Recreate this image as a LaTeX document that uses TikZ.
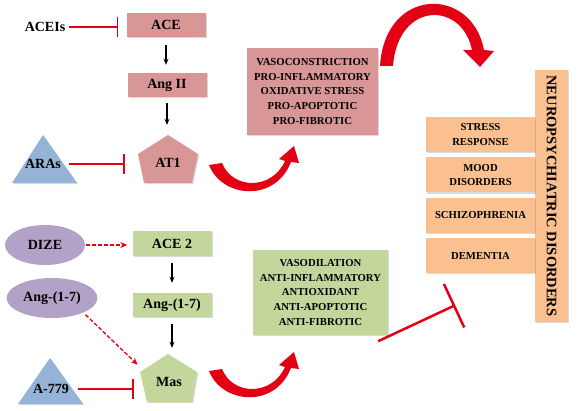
\documentclass[tikz,border=0pt]{standalone}
\usepackage{fontspec}
\setmainfont{Liberation Serif}
\usetikzlibrary{arrows.meta,positioning,shapes.geometric,shadows,calc}
\definecolor{raspink}{RGB}{217,150,150}
\definecolor{rasgreen}{RGB}{195,214,155}
\definecolor{rasorange}{RGB}{250,192,144}
\definecolor{rasblue}{RGB}{149,179,215}
\definecolor{raspurple}{RGB}{179,162,199}
\definecolor{rasred}{RGB}{228,0,20}

\begin{document}
\begin{tikzpicture}[x=1pt,y=-1pt,
  lbl/.style={font=\fontsize{14}{16}\selectfont\bfseries},
  small/.style={font=\fontsize{10.7}{14.6}\selectfont\bfseries, align=center},
  shade box/.style={drop shadow={shadow xshift=1.2pt,shadow yshift=-1.2pt,opacity=.3}},
  pinkbox/.style={lbl, fill=raspink, shade box, minimum width=79pt, minimum height=24pt},
  greenbox/.style={lbl, fill=rasgreen, shade box, minimum width=79pt, minimum height=24pt},
  disbox/.style={small, fill=rasorange, shade box, minimum width=109pt, minimum height=35pt, inner sep=1pt},
  blocker/.style={rasred, line width=1.5pt, -{Bar[width=20pt]}},
  dasharrow/.style={rasred, line width=1.3pt, dash pattern=on 4pt off 2pt, -{Stealth[length=7pt,width=6pt]}},
  down/.style={line width=1.2pt, -{Stealth[length=6pt,width=5pt]}}]
\useasboundingbox (0,0) rectangle (577,411);

% ACE / Ang II / AT1 axis
\node[lbl] (acei) at (45,27) {ACEIs};
\node[pinkbox] (ace) at (166,25) {ACE};
\node[pinkbox] (angii) at (167,85) {Ang II};
\fill[raspink, shade box] (168,135) -- (198,154) -- (192,183) -- (144,183) -- (138,154) -- cycle;
\node[lbl, minimum width=60pt, minimum height=30pt] (at1) at (168,163) {AT1};
\fill[rasblue, shade box] (43,135) -- (77,183) -- (12,183) -- cycle;
\node[lbl] (aras) at (43,164) {ARAs};

\draw[blocker, shorten >=8pt] (acei.east) -- (acei.east -| ace.west);
\draw[down, shorten <=8pt, shorten >=8pt] (ace.south) -- (ace.south |- angii.north);
\draw[down, shorten <=6pt, shorten >=23pt] (angii.south) -- (angii.south |- at1.north);
\draw[blocker, shorten <=5pt, shorten >=13pt] (aras.east) -- (aras.east -| at1.west);

% ACE2 / Ang-(1-7) / Mas axis
\node[lbl, ellipse, fill=raspurple, minimum width=80pt, minimum height=40pt] (dize) at (45,245) {DIZE};
\node[lbl, ellipse, fill=raspurple, minimum width=74pt, minimum height=40pt] (angs) at (52,298) {Ang-(1-7)};
\node[greenbox] (ace2) at (172,243.5) {ACE 2};
\node[greenbox] (ang17) at (172,305) {Ang-(1-7)};
\fill[rasgreen, shade box] (168,354) -- (197,372) -- (192,402) -- (147,402) -- (140,372) -- cycle;
\node[lbl, minimum width=58pt, minimum height=30pt] (mas) at (169,382) {Mas};
\fill[rasblue, shade box] (50,358) -- (83,404) -- (18,404) -- cycle;
\node[lbl] (a779) at (51,389) {A-779};

\draw[dasharrow, shorten <=1pt, shorten >=5pt] (dize.east) -- (dize.east -| ace2.west);
\draw[down, shorten <=7pt, shorten >=10pt] (ace2.south) -- (ace2.south |- ang17.north);
\draw[down, shorten <=7pt, shorten >=19pt] (ang17.south) -- (ang17.south |- mas.north);
\draw[dasharrow, shorten <=3pt, shorten >=3pt] (angs.-25) -- (mas.north west);
\draw[blocker, shorten <=6pt, shorten >=6pt] (a779.east) -- (a779.east -| mas.west);

% effects
\node[small, fill=raspink, shade box, minimum width=131pt, minimum height=87pt] (proeff) at (312.5,91.5)
  {VASOCONSTRICTION\\PRO-INFLAMMATORY\\OXIDATIVE STRESS\\PRO-APOPTOTIC\\PRO-FIBROTIC};
\node[small, fill=rasgreen, shade box, minimum width=135pt, minimum height=85pt] (antieff) at (320.5,292.5)
  {VASODILATION\\ANTI-INFLAMMATORY\\ANTIOXIDANT\\ANTI-APOPTOTIC\\ANTI-FIBROTIC};

% disorders
\node[font=\fontsize{14.5}{16}\selectfont\bfseries, fill=rasorange, shade box, rotate=-90, minimum width=252pt, minimum height=33pt, inner sep=1pt] (neuro) at (551.5,196) {NEUROPSYCHIATRIC DISORDERS};
\node[disbox] (stress) at (480.5,134.5) {STRESS\\RESPONSE};
\node[disbox, below=5pt of stress] (mood) {MOOD\\DISORDERS};
\node[disbox, below=5pt of mood] (schizo) {SCHIZOPHRENIA};
\node[disbox, below=5pt of schizo] (dementia) {DEMENTIA};

% bent arrows
\foreach \dy in {0,206}
  \fill[rasred, shift={(0,\dy)}] (209,165) .. controls (222,198) and (275,203) .. (291,162)
    -- (299,163) -- (294,146) -- (279,159) -- (285,161)
    .. controls (272,190) and (233,190) .. (222,163) -- cycle;
\fill[rasred] (380,66) .. controls (385,-14) and (472,-14) .. (484,50) -- (494,51) -- (480,67)
  -- (463,50) -- (472,50) .. controls (462,1) and (398,1) .. (393,66) -- cycle;

% protective effects block the disorders
\coordinate (gtail) at ($(antieff.south east)+(-10,6)$);
\coordinate (ghead) at ($(gtail)+(77,-36)$);
\draw[rasred, line width=2.5pt, -{Bar[width=48pt]}] (gtail) -- (ghead);
\end{tikzpicture}
\end{document}
